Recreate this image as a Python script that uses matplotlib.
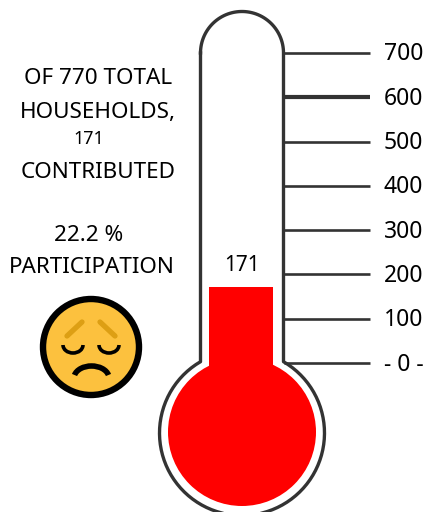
import numpy as np
import matplotlib
matplotlib.use("Agg")
import matplotlib.pyplot as plt
from matplotlib.patches import Circle, Arc

scale_values = [0, 100, 200, 300, 400, 500, 600, 700]
scale_labels = ["- 0 -", "100", "200", "300", "400", "500", "600", "700"]
scale_widths = [1.9, 1.9, 1.9, 1.9, 1.9, 1.9, 3.0, 1.9]
raised = 171
raised_label = "171"
notes = [("OF 770 TOTAL", 98, 84, 16.2), ("HOUSEHOLDS,", 98, 118, 16.2), ("171", 89, 144, 13),
         ("CONTRIBUTED", 98, 178, 16.2), ("22.2 %", 89, 241, 16.2), ("PARTICIPATION", 92, 273, 16.2)]

W, H = 427, 512
PX_PER_UNIT = 0.4429
ZERO_PX = 363
fig = plt.figure(figsize=(W / 100, H / 100), dpi=100, facecolor="white")

# pixel-space layer for the drawn thermometer body and emoji
px = fig.add_axes([0, 0, 1, 1])
px.set_xlim(0, W); px.set_ylim(H, 0); px.axis("off")

# data layer: y in the thermometer's units
ax = fig.add_axes([0, 0, 1, 1], facecolor="none")
ax.set_xlim(0, W)
ax.set_ylim((ZERO_PX - H) / PX_PER_UNIT, ZERO_PX / PX_PER_UNIT)
ax.axis("off")

# glass outline
cx, r_tube, r_bulb, cy_b, cy_t = 242, 41.5, 82.5, 433, 53
a_j = np.arcsin(r_tube / r_bulb)
th_top = np.linspace(np.pi, 0, 60)
th_bulb = np.linspace(a_j, 2 * np.pi - a_j, 160)
xs = np.r_[cx + r_tube * np.cos(th_top), cx + r_bulb * np.sin(th_bulb)]
ys = np.r_[cy_t - r_tube * np.sin(th_top), cy_b - r_bulb * np.cos(th_bulb)]
px.plot(np.r_[xs, xs[0]], np.r_[ys, ys[0]], color="#333333", lw=2.4, solid_joinstyle="round")

# mercury
ax.bar(241, raised, width=64, bottom=0, color="#ff0000", linewidth=0, zorder=3)
px.add_patch(Circle((242, 432), 74, color="#ff0000", lw=0, zorder=2))
px.fill_between([209, 273], 363, 400, color="#ff0000", lw=0, zorder=2)

# scale
ax.hlines(scale_values, 284, 370, color="#333333", linewidth=scale_widths, zorder=1)
for v, lab in zip(scale_values, scale_labels):
    ax.text(384, v - 17, lab, fontsize=16.5, family="Noto Sans", va="baseline", ha="left", color="black")
ax.text(242, raised + 37, raised_label, fontsize=15, family="Noto Sans", ha="center", va="baseline", color="black")

for s, x, y, fs in notes:
    px.text(x, y, s, fontsize=fs, family="Noto Sans", ha="center", va="baseline", color="black")

# emoji
px.add_patch(Circle((91, 347), 48, facecolor="#fcc13e", edgecolor="black", lw=4.6, zorder=4))
brow = "#dd9f14"
px.plot([67, 82], [336, 322], color=brow, lw=3.8, solid_capstyle="round", zorder=5)
px.plot([100, 115], [322, 336], color=brow, lw=3.8, solid_capstyle="round", zorder=5)
for c in (73, 109):
    px.add_patch(Arc((c, 345), 20, 16, theta1=0, theta2=180, color="black", lw=2.6, zorder=5))
px.add_patch(Arc((91.5, 378), 35, 24, theta1=190, theta2=350, color="black", lw=4, zorder=5))

fig.savefig("out.png", dpi=100)
